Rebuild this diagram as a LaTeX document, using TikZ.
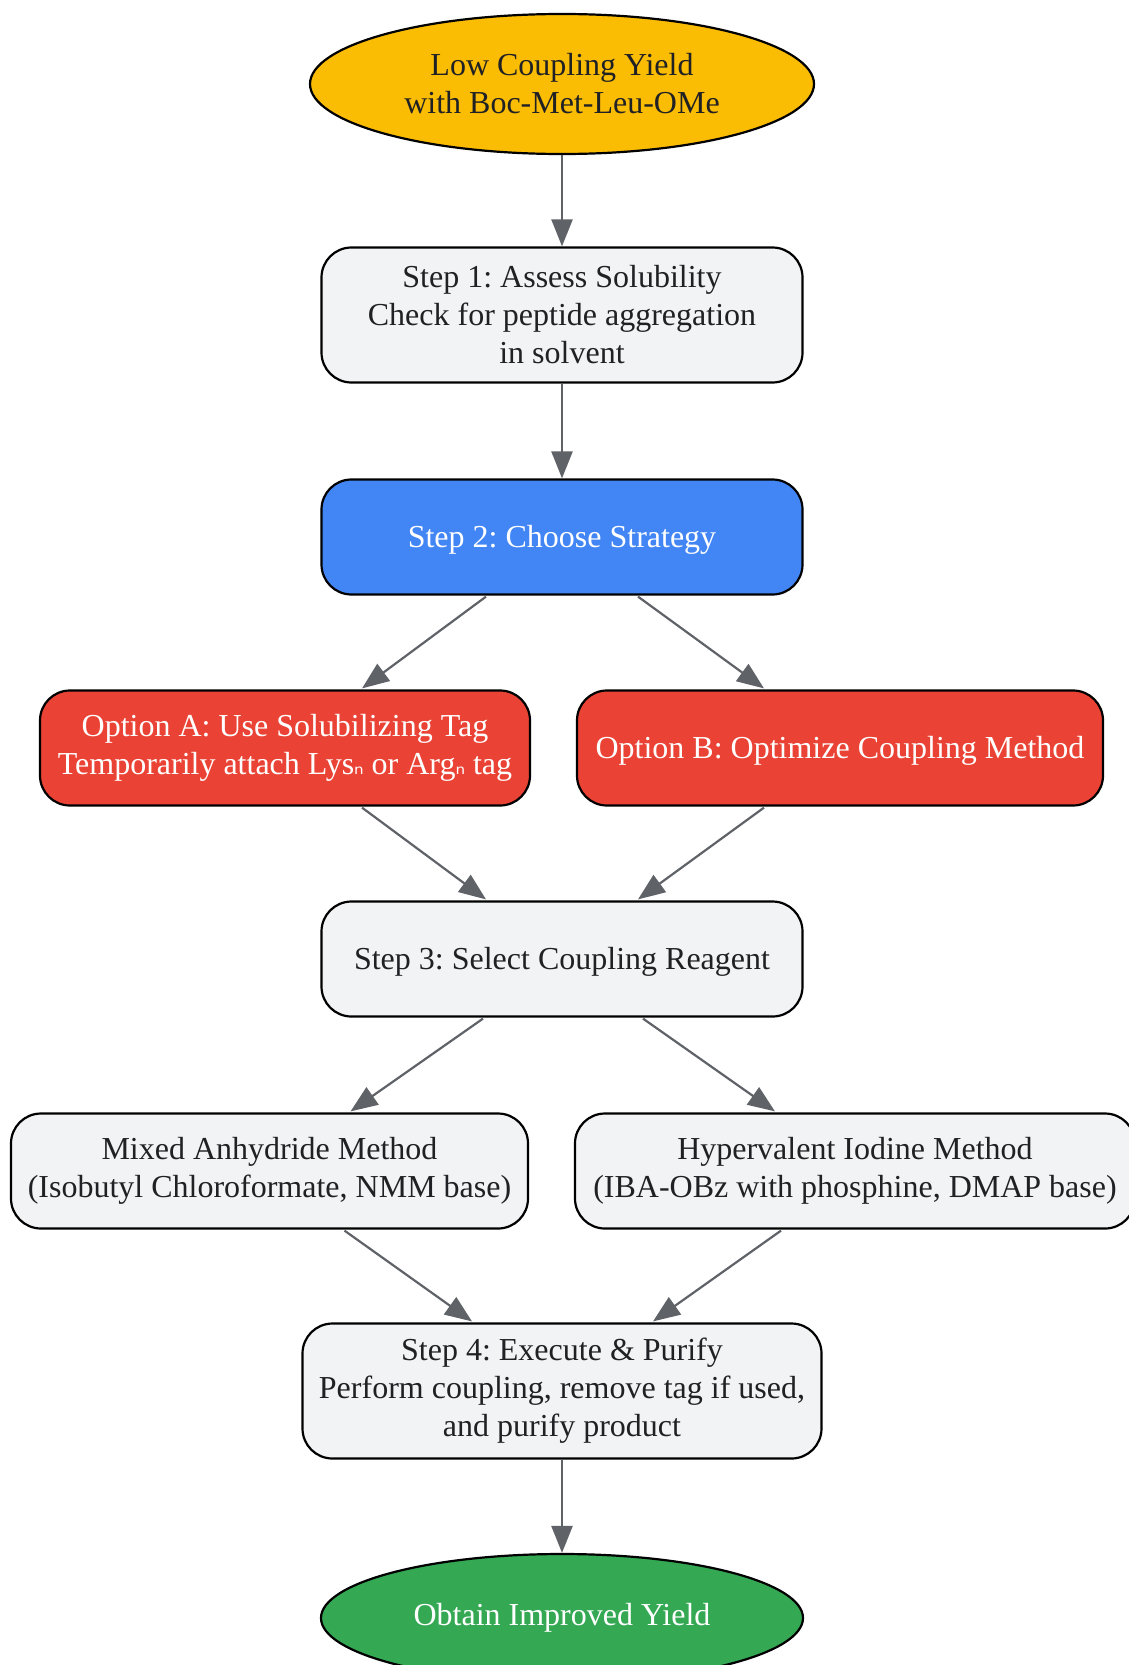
\documentclass[tikz,border=0pt]{standalone}
\usepackage{fontspec}
\setmainfont{Liberation Serif}
\newfontfamily\subfont{DejaVu Sans}
\usetikzlibrary{shapes.geometric,arrows.meta,calc}
\definecolor{cyellow}{HTML}{FBBC04}
\definecolor{cgray}{HTML}{F1F3F4}
\definecolor{cblue}{HTML}{4285F4}
\definecolor{cred}{HTML}{EA4335}
\definecolor{cgreen}{HTML}{34A853}
\definecolor{ctext}{HTML}{202124}
\definecolor{carrow}{HTML}{5F6368}
\newcommand{\subn}{{\subfont\fontsize{24}{24}\selectfont ₙ}}
\newcommand{\lowr}[1]{\raisebox{-3pt}[\height][\depth]{#1}}
\begin{document}
\frenchspacing
\begin{tikzpicture}[x=1pt,y=-1pt,
  base/.style={draw=black, line width=2.2pt, inner sep=0pt, align=center,
    font=\fontsize{32}{38}\selectfont},
  box/.style={base, rounded corners=30pt, fill=cgray, text=ctext},
  oval/.style={base, ellipse},
  arr/.style={draw=carrow, line width=2.2pt, -{Triangle[length=27pt,width=21pt]}}]
\useasboundingbox (0,0) rectangle (1128,1665);
\fill[white] (0,0) rectangle (1128,1665);

\node[oval, fill=cyellow, text=ctext, minimum width=504pt, minimum height=140pt] (top) at (562,84)
  {Low Coupling Yield\\with Boc-Met-Leu-OMe};
\node[box, minimum width=481pt, minimum height=135pt] (s1) at (562,315)
  {Step 1: Assess Solubility\\Check for peptide aggregation\\in solvent};
\node[box, fill=cblue, text=white, minimum width=481pt, minimum height=115pt] (s2) at (562,537)
  {\lowr{Step 2: Choose Strategy}};
\node[box, fill=cred, text=white, minimum width=490pt, minimum height=115pt] (oa) at (285,748)
  {Option A: Use Solubilizing Tag\\Temporarily attach Lys\subn{} or Arg\subn{} tag};
\node[box, fill=cred, text=white, minimum width=526pt, minimum height=115pt] (ob) at (840,748)
  {\lowr{Option B: Optimize Coupling Method}};
\node[box, minimum width=481pt, minimum height=115pt] (s3) at (562,959)
  {\lowr{Step 3: Select Coupling Reagent}};
\node[box, minimum width=517pt, minimum height=115pt] (mx) at (269.5,1171)
  {Mixed Anhydride Method\\(Isobutyl Chloroformate, NMM base)};
\node[box, minimum width=560pt, minimum height=115pt] (hy) at (855,1171)
  {Hypervalent Iodine Method\\(IBA-OBz with phosphine, DMAP base)};
\node[box, minimum width=519pt, minimum height=135pt] (s4) at (562,1391)
  {Step 4: Execute \& Purify\\Perform coupling, remove tag if used,\\and purify product};
\node[oval, fill=cgreen, text=white, minimum width=482pt, minimum height=128pt] (end) at (562,1618)
  {Obtain Improved Yield};

\draw[arr] (top.south) -- (s1.north);
\draw[arr] (s1.south) -- (s2.north);
\draw[arr] ($(s2.south)+(-76,1)$) -- ($(oa.north)+(77,-1)$);
\draw[arr] ($(s2.south)+(76,1)$) -- ($(ob.north)+(-76,-1)$);
\draw[arr] ($(oa.south)+(77,1)$) -- ($(s3.north)+(-76,-1)$);
\draw[arr] ($(ob.south)+(-76,1)$) -- ($(s3.north)+(76,-1)$);
\draw[arr] ($(s3.south)+(-79,1)$) -- ($(mx.north)+(81,-1)$);
\draw[arr] ($(s3.south)+(81,1)$) -- ($(hy.north)+(-80,-1)$);
\draw[arr] ($(mx.south)+(75,1)$) -- ($(s4.north)+(-90,-1)$);
\draw[arr] ($(hy.south)+(-74,1)$) -- ($(s4.north)+(91,-1)$);
\draw[arr] (s4.south) -- (end.north);
\end{tikzpicture}
\end{document}
